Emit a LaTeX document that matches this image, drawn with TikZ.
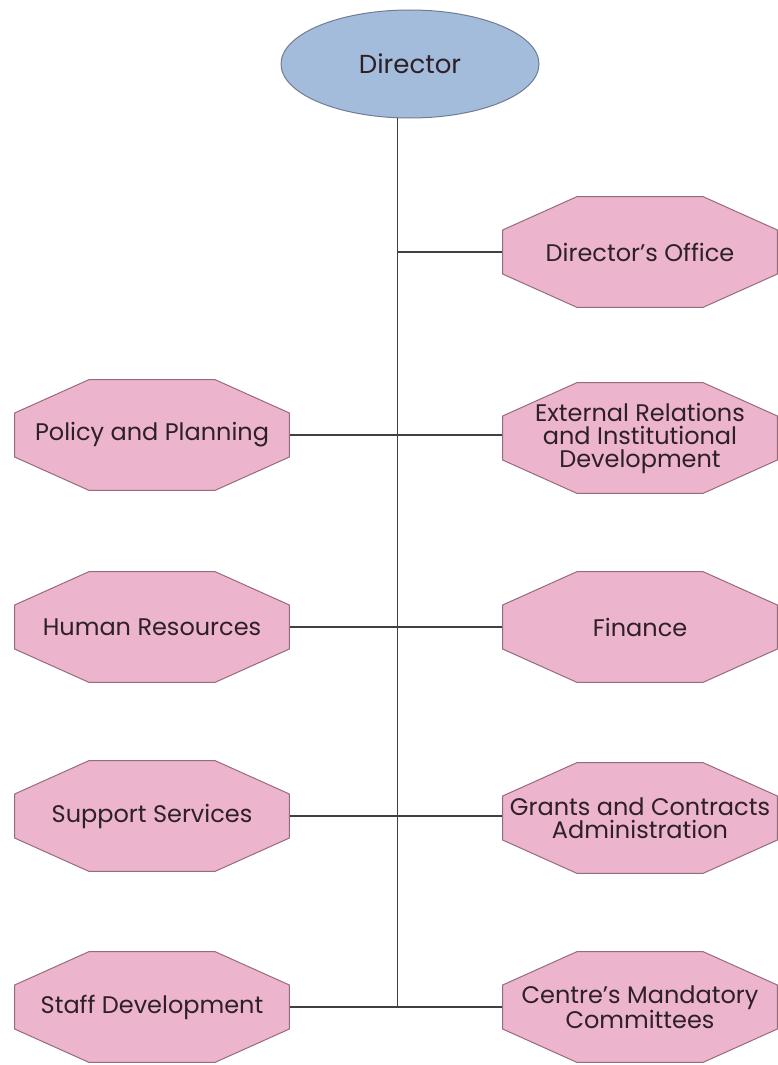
\documentclass[tikz,border=0pt]{standalone}
\usepackage{fontspec}
\setmainfont{Poppins}
\usetikzlibrary{shapes.geometric}

\definecolor{unitpink}{RGB}{237,180,205}
\definecolor{unitedge}{RGB}{150,108,122}
\definecolor{headblue}{RGB}{164,188,219}
\definecolor{headedge}{RGB}{112,124,146}
\definecolor{unittext}{RGB}{45,32,38}

\begin{document}
\begin{tikzpicture}[x=1pt,y=1pt,
    font=\fontsize{24}{23}\selectfont,text=unittext,
    head/.style={ellipse,draw=headedge,fill=headblue,line width=1pt,
      minimum width=258pt,minimum height=108pt,
      font=\fontsize{26}{28}\selectfont},
    unit/.style={align=center,inner sep=0pt,
      minimum width=276pt,minimum height=112pt,
      path picture={
        \filldraw[fill=unitpink,draw=unitedge,line width=1pt]
          ([xshift=75pt,yshift=-0.6pt]path picture bounding box.north west)
          -- ([xshift=-75pt,yshift=-0.6pt]path picture bounding box.north east)
          -- ([xshift=-0.6pt,yshift=-34pt]path picture bounding box.north east)
          -- ([xshift=-0.6pt,yshift=34pt]path picture bounding box.south east)
          -- ([xshift=-75pt,yshift=0.6pt]path picture bounding box.south east)
          -- ([xshift=75pt,yshift=0.6pt]path picture bounding box.south west)
          -- ([xshift=0.6pt,yshift=34pt]path picture bounding box.south west)
          -- ([xshift=0.6pt,yshift=-34pt]path picture bounding box.north west)
          -- cycle;}},
    link/.style={draw=black!75,line width=1.1pt}]
  \useasboundingbox (0,0) rectangle (778,-1065);

  \node[head] (director) at (410,-64) {Director};

  \node[unit] (office) at (640,-252) {Director's Office};
  \node[unit] (policy) at (152,-435) {Policy and Planning};
  \node[unit] (external) at (640,-438)
    {External Relations\\and Institutional\\Development};
  \node[unit] (human) at (152,-627) {Human Resources};
  \node[unit] (finance) at (640,-627) {Finance};
  \node[unit] (support) at (152,-816) {Support Services};
  \node[unit] (grants) at (640,-818)
    {Grants and Contracts\\Administration};
  \node[unit] (staff) at (152,-1007) {Staff Development};
  \node[unit] (mandatory) at (640,-1007)
    {Centre's Mandatory\\Committees};

  \coordinate (trunkend) at (director.-103 |- staff.east);
  \draw[link] (director.-103) -- (trunkend);
  \draw[link] (director.-103 |- office.west) -- (office.west);
  \draw[link] (policy.east) -- (external.west |- policy.east);
  \draw[link] (human.east) -- (finance.west);
  \draw[link] (support.east) -- (grants.west |- support.east);
  \draw[link] (staff.east) -- (mandatory.west);
\end{tikzpicture}
\end{document}
